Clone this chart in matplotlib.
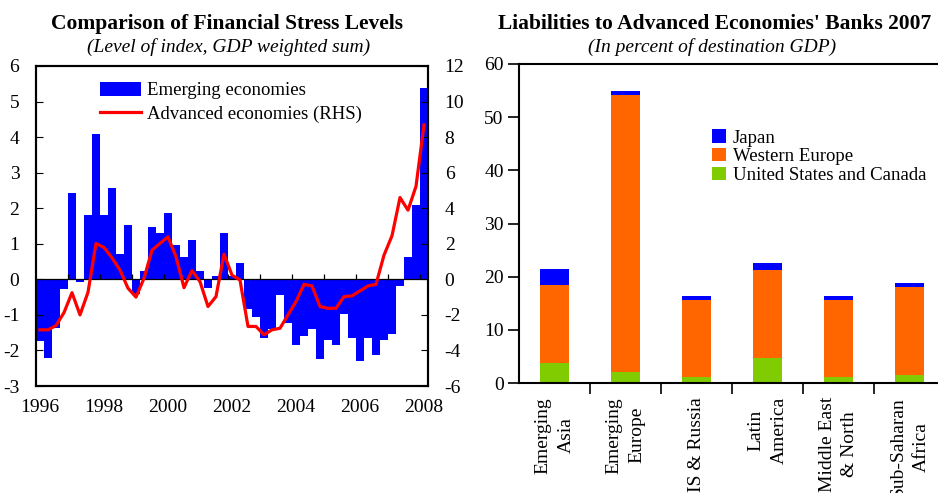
import numpy as np
import pandas as pd
import matplotlib
matplotlib.use("Agg")
import matplotlib.pyplot as plt

plt.rcParams['font.family'] = ['Liberation Serif', 'DejaVu Serif']
plt.rcParams['axes.unicode_minus'] = False

# --- left panel: financial stress, quarterly 1996Q1-2008Q1 ---
quarters = pd.period_range('1996Q1', '2008Q1', freq='Q')
emerging = [-1.73, -2.2, -1.38, -0.28, 2.42, -0.07, 1.8, 4.1, 1.8, 2.56,
            0.71, 1.52, -0.4, 0.23, 1.47, 1.3, 1.86, 0.96, 0.63, 1.1,
            0.23, -0.23, 0.1, 1.3, 0.08, 0.45, -0.83, -1.05, -1.64, -1.4,
            -0.44, -1.23, -1.86, -1.59, -1.4, -2.24, -1.7, -1.84, -0.97, -1.64,
            -2.31, -1.64, -2.12, -1.7, -1.53, -0.2, 0.63, 2.08, 5.38]
advanced = [-2.84, -2.84, -2.6, -1.87, -0.75, -2.0, -0.73, 2.02, 1.79, 1.21,
            0.52, -0.5, -1.0, 0.06, 1.64, 2.02, 2.39, 1.27, -0.47, 0.49,
            -0.13, -1.53, -0.97, 1.42, 0.24, -0.04, -2.65, -2.65, -3.12, -2.84,
            -2.75, -2.0, -1.25, -0.28, -0.37, -1.53, -1.63, -1.63, -0.97, -0.93,
            -0.65, -0.37, -0.28, 1.36, 2.45, 4.6, 3.89, 5.23, 8.69]
year_labels = ['1996', '1998', '2000', '2002', '2004', '2006', '2008']

# --- right panel: liabilities to advanced economies' banks ---
regions = ['Emerging\nAsia', 'Emerging\nEurope', 'CIS & Russia',
           'Latin\nAmerica', 'Middle East\n& North', 'Sub-Saharan\nAfrica']
us_canada = [3.8, 2.1, 1.1, 4.7, 1.1, 1.5]
western_europe = [14.6, 52.1, 14.5, 16.5, 14.5, 16.6]
japan = [3.0, 0.8, 0.7, 1.3, 0.7, 0.7]

BLUE = '#0000ff'
ORANGE = '#ff6600'
GREEN = '#80cc00'
FS = 14

fig = plt.figure(figsize=(9.38, 4.93), dpi=100)
W, H = 938, 493

# left chart
ax1 = fig.add_axes([36 / W, 1 - 386 / H, 392 / W, 320 / H])
xq = quarters.year + (quarters.quarter - 1) / 4
bars = ax1.bar(xq, emerging, width=0.25, align='edge', color=BLUE, linewidth=0)
ax1.axhline(0, color='black', lw=0.9, zorder=3)
ax1.vlines(np.arange(1997, 2009), 0, 0.14, color='black', lw=0.9, zorder=3)
ax1.set_xlim(1996, 2008.25)
ax1.set_ylim(-3, 6)
ax1.set_yticks(range(-3, 7))
ax1.set_xticks([int(y) + 0.125 for y in year_labels], labels=year_labels)
ax1.tick_params(axis='x', length=0, pad=9, labelsize=FS)
ax1.tick_params(axis='y', direction='in', length=5, pad=12, labelsize=FS)

ax2 = ax1.twinx()
line, = ax2.plot(xq + 0.125, advanced, color='red', lw=2.3, zorder=4)
ax2.set_ylim(-6, 12)
ax2.set_yticks(range(-6, 13, 2))
ax2.tick_params(axis='y', direction='in', length=5, pad=12, labelsize=FS)
for a in (ax1, ax2):
    for s in a.spines.values():
        s.set_linewidth(1.5)

ax2.legend([bars, line], ['Emerging economies', 'Advanced economies (RHS)'],
           loc='upper left', bbox_to_anchor=(0.163, 0.95), frameon=False,
           borderpad=0, borderaxespad=0, handlelength=2.2, handleheight=0.75,
           handletextpad=0.3, labelspacing=0.32, fontsize=13.5)

fig.text(227 / W, 1 - 24 / H, 'Comparison of Financial Stress Levels',
         ha='center', va='center', fontsize=15.5, fontweight='bold')
fig.text(229 / W, 1 - 47 / H, '(Level of index, GDP weighted sum)',
         ha='center', va='center', fontsize=FS, style='italic')

# right chart
ax3 = fig.add_axes([519 / W, 1 - 383 / H, 426 / W, 319 / H])
pos = np.arange(len(regions))
bw = 0.41
ax3.bar(pos, us_canada, bw, color=GREEN, linewidth=0, label='United States and Canada')
ax3.bar(pos, western_europe, bw, bottom=us_canada, color=ORANGE, linewidth=0,
        label='Western Europe')
ax3.bar(pos, japan, bw, bottom=np.add(us_canada, western_europe), color=BLUE,
        linewidth=0, label='Japan')
ax3.set_xlim(-0.5, 5.5)
ax3.set_ylim(0, 60)
ax3.set_yticks(range(0, 61, 10))
ax3.set_xticks(pos, labels=regions, rotation=90, va='top', ha='center',
               multialignment='center', linespacing=1.45)
ax3.set_xticks(pos[:-1] + 0.5, minor=True)
ax3.tick_params(axis='x', which='major', length=0, pad=10, labelsize=FS)
ax3.tick_params(axis='x', which='minor', length=8, direction='out', width=1.2)
ax3.tick_params(axis='y', direction='out', length=8, width=1.2, pad=3, labelsize=FS)
for s in ax3.spines.values():
    s.set_linewidth(1.5)

h, l = ax3.get_legend_handles_labels()
ax3.legend(h[::-1], l[::-1], loc='upper left', bbox_to_anchor=(0.453, 0.795),
           frameon=False, borderpad=0, borderaxespad=0, handlelength=0.75,
           handleheight=0.7, handletextpad=0.35, labelspacing=0.08, fontsize=13.5)

fig.text(715 / W, 1 - 24 / H, "Liabilities to Advanced Economies' Banks 2007",
         ha='center', va='center', fontsize=15.5, fontweight='bold')
fig.text(712 / W, 1 - 47 / H, '(In percent of destination GDP)',
         ha='center', va='center', fontsize=FS, style='italic')

fig.savefig('out.png', dpi=100)
